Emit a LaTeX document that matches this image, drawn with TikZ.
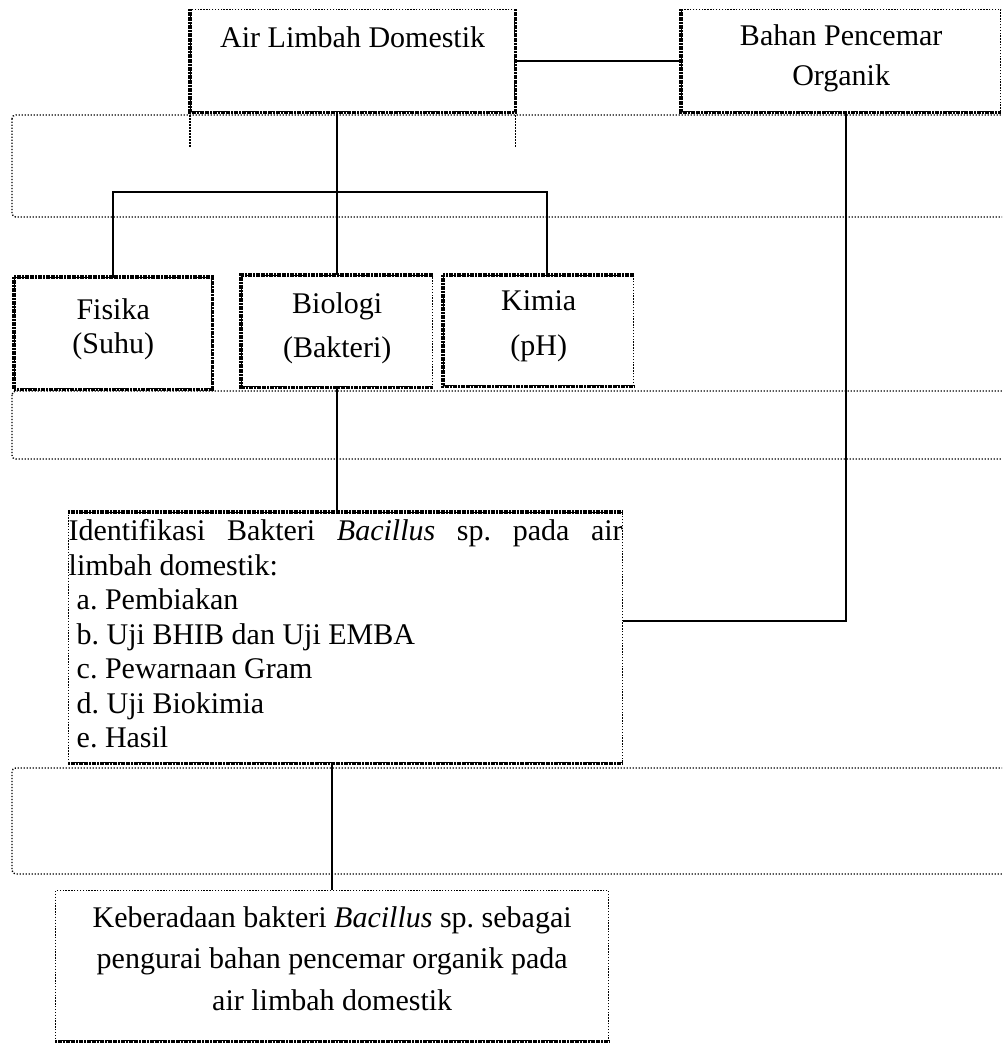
\documentclass[tikz,border=0pt]{standalone}
\usepackage{fontspec}
\setmainfont{Liberation Serif}
\usetikzlibrary{positioning}
\frenchspacing

% isi kotak: tinggi, lebar, baris pertama, teks
\newcommand{\isikotak}[4]{\parbox[c][#1][t]{#2}{\centering\rule{0pt}{#3}#4}}

\tikzset{
  kotak/.style={draw, line width=0.55pt, dash pattern=on 0.55pt off 0.6pt,
    inner sep=0pt, anchor=north west},
  tebal/.style={line width=1.4pt, dash pattern=on 0.8pt off 0.25pt},
  bingkai/.style={line width=0.55pt, dash pattern=on 0.5pt off 0.7pt, rounded corners=1.5pt},
  garis/.style={line width=0.75pt},
}

\begin{document}
\begin{tikzpicture}[x=0.4pt, y=-0.4pt]
\clip (0,0) rectangle (1002,1046);
\useasboundingbox (0,0) rectangle (1002,1046);

% bingkai titik-titik
\draw[bingkai] (12,115) rectangle (1030,217);
\draw[bingkai] (12,391) rectangle (1030,459);
\draw[bingkai] (12,768) rectangle (1030,874);

% kotak-kotak
\node[kotak, font=\fontsize{12}{14}\selectfont] (air) at (190,9)
  {\isikotak{40.8pt}{129.6pt}{15.2pt}{Air Limbah Domestik}};
\node[kotak, font=\fontsize{12}{16}\selectfont] (bahan) at (681,9)
  {\isikotak{40.8pt}{127.6pt}{14.4pt}{Bahan Pencemar\\Organik}};
\node[kotak, font=\fontsize{12}{13.5}\selectfont] (fisika) at (14,277)
  {\isikotak{44.4pt}{78.8pt}{16.8pt}{Fisika\\(Suhu)}};
\node[kotak, font=\fontsize{12}{17.6}\selectfont] (biologi) at (241,275)
  {\isikotak{44.4pt}{76.4pt}{15.2pt}{Biologi\\(Bakteri)}};
\node[kotak, font=\fontsize{12}{18}\selectfont] (kimia) at (443,275)
  {\isikotak{44pt}{76pt}{14pt}{Kimia\\(pH)}};
\node[kotak, font=\fontsize{12}{13.8}\selectfont] (identifikasi) at (68,512)
  {\parbox[c][100pt][t]{221.6pt}{\rule{0pt}{11.2pt}Identifikasi Bakteri \textit{Bacillus} sp. pada air\linebreak
   limbah domestik:\\
   \hspace*{3.2pt}a. Pembiakan\\
   \hspace*{3.2pt}b. Uji BHIB dan Uji EMBA\\
   \hspace*{3.2pt}c. Pewarnaan Gram\\
   \hspace*{3.2pt}d. Uji Biokimia\\
   \hspace*{3.2pt}e. Hasil}};
\node[kotak, font=\fontsize{12}{16.5}\selectfont] (hasil) at (55,890)
  {\isikotak{60pt}{221.2pt}{14.8pt}{Keberadaan bakteri \textit{Bacillus} sp. sebagai\\
   pengurai bahan pencemar organik pada\\air limbah domestik}};

% sisi tebal
\draw[tebal] (air.north west) -- (air.south west) -- (air.south east) -- (air.north east);
\draw[tebal] (bahan.north west) -- (bahan.south west) -- (bahan.south east);
\draw[tebal] (fisika.north west) rectangle (fisika.south east);
\foreach \k in {biologi,kimia}
  \draw[tebal] (\k.north east) -- (\k.north west) -- (\k.south west) -- (\k.south east);
\draw[tebal] (identifikasi.north west) -- (identifikasi.north east);
\draw[tebal] (identifikasi.south west) -- (identifikasi.south east);
\draw[tebal] (hasil.south west) -- (hasil.south east);

% garis putus di bawah kotak air
\draw[bingkai] (air.south west) -- ++(0,36);
\draw[bingkai] (air.south east) -- ++(0,36);

% penghubung
\path (biologi.north) ++(0,-83) coordinate (cabang);
\draw[garis] (air.east) -- (bahan.west);
\draw[garis] (cabang |- air.south) -- (cabang);
\draw[garis] (fisika.north) |- (cabang) -| ([xshift=3.2pt]kimia.north);
\draw[garis] (cabang) -- (biologi.north);
\draw[garis] (biologi.south) -- (biologi.south |- identifikasi.north);
\draw[garis] ([xshift=1.8pt]bahan.south) |- ([yshift=6.8pt]identifikasi.east);
\draw[garis] (hasil.north |- identifikasi.south) -- (hasil.north);
\end{tikzpicture}
\end{document}
